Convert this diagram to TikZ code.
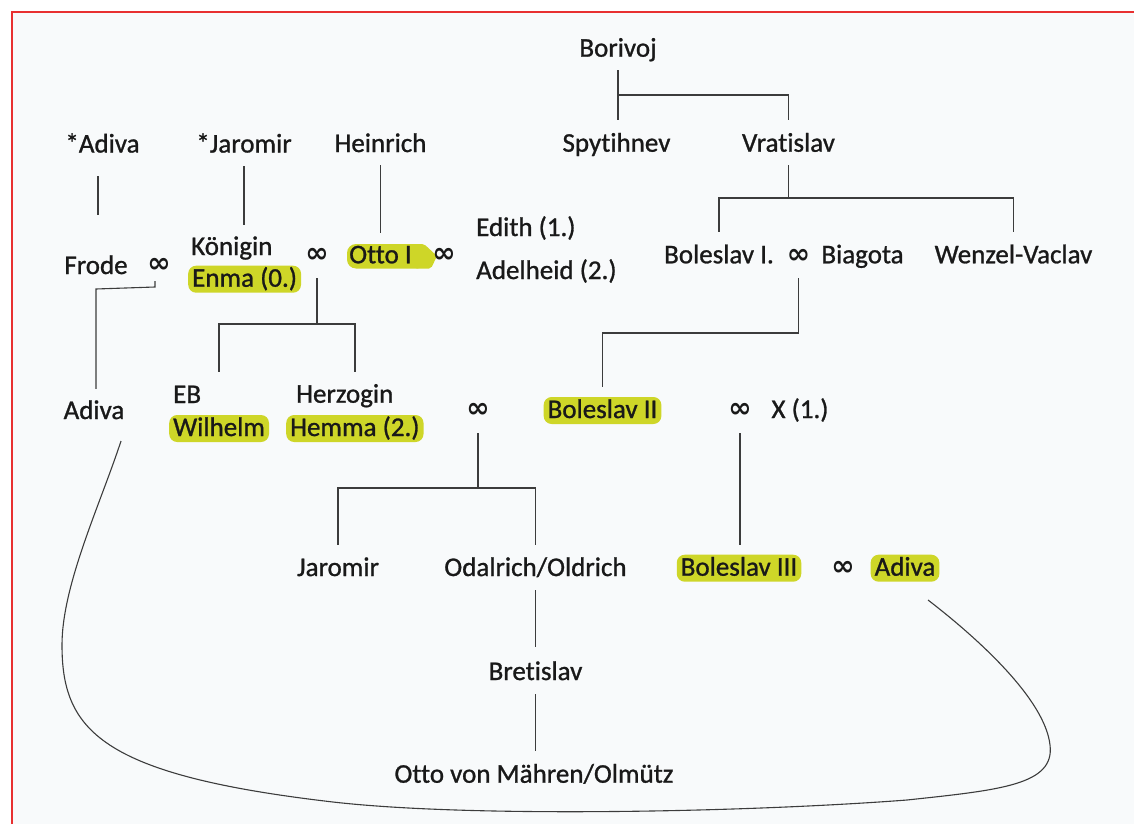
\documentclass[tikz,border=0pt]{standalone}
\usepackage{fontspec}
\setmainfont{Carlito}[Ligatures={NoCommon,NoContextual}, FakeBold=1]
\newfontfamily\symf{DejaVu Sans Bold}
\usetikzlibrary{calc}
\definecolor{hl}{RGB}{206,214,40}
\definecolor{ink}{RGB}{25,25,25}
\definecolor{bg}{RGB}{248,250,251}
\definecolor{frame}{RGB}{232,48,48}
\begin{document}
\begin{tikzpicture}[x=1pt,y=-1pt,
  person/.style={font=\fontsize{27}{27}\selectfont, text=ink, inner xsep=4pt, inner ysep=3pt, text height=18pt, text depth=3pt, anchor=base},
  personL/.style={person, anchor=base west},
  hlbox/.style={fill=hl, rounded corners=8pt},
  marr/.style={font=\symf\fontsize{28}{28}\selectfont, text=ink, inner sep=0pt, anchor=center},
  conn/.style={draw=ink!85, line width=1.3pt},
]
\useasboundingbox (0,0) rectangle (1134,824);
\fill[white] (0,0) rectangle (1134,824);
\fill[bg] (12,12) rectangle (1134,824);
\draw[frame, line width=1.5pt] (12,824) -- (12,12) -- (1134,12);

% highlight of Otto I (marker shape)
\fill[hl, rounded corners=9pt] (347,244) rectangle (426,268.5);
\fill[hl, rounded corners=2pt] (415,244) -- (424,244) -- (437,256) -- (431,268.5) -- (415,268.5) -- cycle;

% persons
\node[person] (borivoj) at (618,56.7) {Borivoj};
\node[person] (spyt) at (616.5,151.7) {Spytihnev};
\node[person] (vrat) at (788.5,151.7) {Vratislav};
\node[person] (sadiva) at (102.5,152.5) {*Adiva};
\node[person] (sjaromir) at (244,152.5) {*Jaromir};
\node[person] (heinrich) at (380.5,152) {Heinrich};
\node[person] (frode) at (96,274) {Frode};
\node[personL] (koenigin) at (187,255) {Königin};
\node[personL, hlbox] (enma) at (188,286.7) {Enma (0.)};
\node[person] (otto1) at (380.5,263.3) {Otto I};
\node[personL] (edith) at (472,236) {Edith (1.)};
\node[personL] (adelheid) at (472,279) {Adelheid (2.)};
\node[person] (bol1) at (719,263.3) {Boleslav I.};
\node[person] (biagota) at (862.5,263.3) {Biagota};
\node[person] (wenzel) at (1013.5,263.3) {Wenzel-Vaclav};
\node[person] (adivaL) at (94,419) {Adiva};
\node[personL] (eb) at (169,403) {EB};
\node[personL, hlbox] (wilhelm) at (169,436) {Wilhelm};
\node[personL] (herzogin) at (292,402.7) {Herzogin};
\node[personL, hlbox] (hemma) at (286,436) {Hemma (2.)};
\node[person, hlbox] (bol2) at (602.5,418) {Boleslav II};
\node[person] (x1) at (800,418) {X (1.)};
\node[person] (jaromir2) at (338,576) {Jaromir};
\node[person] (odal) at (535.5,576) {Odalrich/Oldrich};
\node[person, hlbox] (bol3) at (739,575.7) {Boleslav III};
\node[person, hlbox] (adivaR) at (905,575.7) {Adiva};
\node[person] (bret) at (535.5,680) {Bretislav};
\node[person] (ottoM) at (534,782.7) {Otto von Mähren/Olmütz};

% marriage signs
\node[marr] (mf) at (159,265) {∞};
\node[marr] (mk) at (317,255) {∞};
\node[marr] (mo) at (444,255) {∞};
\node[marr] (mbb) at (798.5,256) {∞};
\node[marr] (mh) at (478,410) {∞};
\node[marr] (mbx) at (740,410) {∞};
\node[marr] (mba) at (843,568) {∞};

% connectors
\draw[conn, shorten <=7.3pt] (borivoj.south) -- (borivoj.south |- 0,95) coordinate (bj);
\draw[conn, shorten >=10.7pt] (bj) -- (bj |- spyt.north);
\draw[conn, shorten >=10.7pt] (bj) -| (vrat.north);

\draw[conn, shorten <=7.3pt] (vrat.south) -- (vrat.south |- 0,198) coordinate (vj);
\draw[conn, shorten >=10.3pt] (vj) -| (bol1.north);
\draw[conn, shorten >=10.3pt] (vj) -| (wenzel.north);

\draw[conn, shorten <=22pt] (mbb.center) -- (mbb.center |- 0,333) coordinate (bbj);
\draw[conn, shorten >=10pt] (bbj) -| (bol2.north);

\draw[conn, shorten <=23pt, shorten >=9.7pt] (mbx.center) -- (mbx.center |- bol3.north);

\draw[conn, shorten <=23pt] (mh.center) -- (mh.center |- 0,488) coordinate (hj);
\draw[conn, shorten >=10pt] (hj) -| (jaromir2.north);
\draw[conn, shorten >=10pt] (hj) -| (odal.north);

\draw[conn, shorten <=8pt, shorten >=12pt] (odal.south) -- (odal.south |- bret.north);
\draw[conn, shorten <=8pt, shorten >=10.7pt] (bret.south) -- (bret.south |- ottoM.north);

\draw[conn, shorten <=17.3pt, shorten >=38pt] (sadiva.south -| 98,0) -- (frode.north -| 98,0);
\draw[conn, shorten <=7.3pt, shorten >=9pt] (sjaromir.south) -- (sjaromir.south |- koenigin.north);
\draw[conn, shorten <=7pt, shorten >=9.3pt] (heinrich.south) -- (heinrich.south |- otto1.north);

\draw[conn, shorten <=23pt] (mk.center) -- (mk.center |- 0,324) coordinate (kj);
\draw[conn, shorten >=10pt] (kj) -| (wilhelm.north |- eb.north);
\draw[conn, shorten >=9.7pt] (kj) -| (hemma.north |- herzogin.north);

\draw[conn, line width=1.1pt, shorten <=16pt, shorten >=9pt] (mf.center -| 155,0) -- (155,287) -- (96,289) -- (adivaL.north -| 96,0);

% long curve between the two Adivas
\coordinate (cs) at (121,441);
\coordinate (ce) at (928,600);
\draw[conn, line width=1.1pt] (cs)
  .. controls (100,505) and (62,585) .. (62,645)
  .. controls (62,730) and (100,775) .. (333,802)
  .. controls (473,818) and (750,812) .. (907,800)
  .. controls (1000,790) and (1055,785) .. (1050,745)
  .. controls (1045,700) and (980,640) .. (ce);
\end{tikzpicture}
\end{document}
